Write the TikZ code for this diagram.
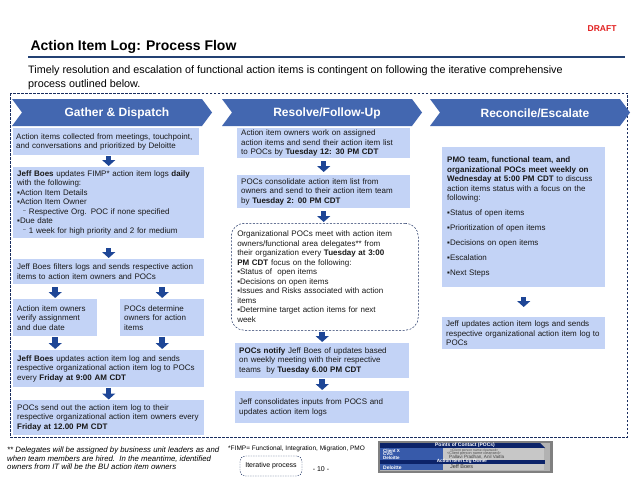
\documentclass[tikz,border=0pt]{standalone}
\usepackage{fontspec}
\setmainfont{Liberation Sans}
\usepackage{xcolor}
\usepackage{tikz}
\usetikzlibrary{arrows.meta}

\definecolor{chevblue}{RGB}{67,103,176}
\definecolor{boxblue}{RGB}{195,211,246}
\definecolor{arrowblue}{RGB}{30,70,150}
\definecolor{framenavy}{RGB}{25,45,95}
\definecolor{rulenavy}{RGB}{35,65,115}
\definecolor{draftred}{RGB}{225,30,30}
\definecolor{tabnavy}{RGB}{12,35,105}
\definecolor{tabblue}{RGB}{55,90,170}

\newcommand{\subln}{\hspace*{6pt}\raisebox{1.5pt}{\fontsize{5}{5}\selectfont --}\hspace{3pt}}

\begin{document}
\begin{tikzpicture}[x=1pt,y=-1pt,
  txt/.style={font=\fontsize{8}{9.5}\selectfont, text=black!90},
  box/.style={txt, fill=boxblue, anchor=north west, align=left, inner xsep=4pt, inner ysep=1pt},
  meetbox/.style={txt, draw=framenavy, dash pattern=on 2pt off 1.5pt, line width=0.5pt, rounded corners=13pt,
    anchor=north west, align=left, inner xsep=6pt, inner ysep=1pt},
  chevtext/.style={text=white, font=\bfseries\fontsize{12}{12}\selectfont},
  dnarrow/.style={draw=arrowblue, line width=5.5pt, -{Triangle[width=13pt,length=6pt]}, shorten >=1pt, shorten <=1pt},
  tabtext/.style={inner sep=0pt, font=\bfseries\fontsize{5}{5}\selectfont}]
\useasboundingbox (0,0) rectangle (638,479);

% heading
\node[anchor=east, text=draftred, font=\bfseries\fontsize{8.5}{9}\selectfont] (draft) at (620,29) {DRAFT};
\node[anchor=west, font=\bfseries\fontsize{14}{14}\selectfont] (title) at (27,47) {Action Item Log: Process Flow};
\draw[rulenavy, line width=1.3pt] (28,57) -- (625,57);
\node[anchor=north west, align=left, inner sep=0pt, font=\fontsize{10.8}{14}\selectfont] (intro) at (28,65)
  {Timely resolution and escalation of functional action items is contingent on following the iterative comprehensive\\process outlined below.};

\draw[framenavy, dash pattern=on 2.5pt off 1.5pt, line width=0.6pt] (10,93) rectangle (627,437);

% phase banners
\foreach \x/\name/\lbl in {12/gather/{Gather \& Dispatch}, 222/resolve/{Resolve/Follow-Up}, 430/reconcile/{Reconcile/Escalate}}{
  \fill[chevblue] (\x,99) -- ++(190,0) -- ++(10,13.5) -- ++(-10,13.5) -- ++(-190,0) -- ++(10,-13.5) -- cycle;
  \node[chevtext] (\name) at (\x+105,113) {\lbl};
}

% gather & dispatch
\node[box, text width=180pt, inner xsep=3pt, minimum height=27pt] (collect) at (13,128)
  {Action items collected from meetings, touchpoint,\\and conversations and prioritized by Deloitte};
\node[box, text width=183pt, minimum height=71pt] (daily) at (13,167)
  {\textbf{Jeff Boes} updates FIMP* action item logs \textbf{daily}\\with the following:\\▪Action Item Details\\▪Action Item Owner\\\subln Respective Org. POC if none specified\\▪Due date\\\subln 1 week for high priority and 2 for medium};
\node[box, text width=183pt, minimum height=25pt] (filter) at (13,259)
  {Jeff Boes filters logs and sends respective action\\items to action item owners and POCs};
\node[box, text width=76pt, minimum height=37pt] (verify) at (13,299)
  {Action item owners\\verify assignment\\and due date};
\node[box, text width=76pt, minimum height=37pt] (determine) at (120,299)
  {POCs determine\\owners for action\\items};
\node[box, text width=183pt, minimum height=37pt] (friday9) at (13,350)
  {\textbf{Jeff Boes} updates action item log and sends\\respective organizational action item log to POCs\\every \textbf{Friday at 9:00 AM CDT}};
\node[box, text width=183pt, minimum height=35pt] (friday12) at (13,400)
  {POCs send out the action item log to their\\respective organizational action item owners every\\\textbf{Friday at 12.00 PM CDT}};

\draw[dnarrow] (collect.south -| daily) -- (daily.north);
\draw[dnarrow, shorten <=10pt] (daily.south) -- (filter.north);
\draw[dnarrow, shorten <=3pt] (filter.south -| verify) -- (verify.north);
\draw[dnarrow, shorten <=3pt] (filter.south -| determine) -- (determine.north);
\draw[dnarrow] (verify.south) -- (verify.south |- friday9.north);
\draw[dnarrow] (determine.south) -- (determine.south |- friday9.north);
\draw[dnarrow, shorten <=0.5pt, shorten >=0.5pt] (friday9.south -| filter) -- (friday12.north);

% resolve / follow-up
\node[box, text width=165pt, minimum height=30pt] (work) at (237,128)
  {Action item owners work on assigned\\action items and send their action item list\\to POCs by \textbf{Tuesday 12: 30 PM CDT}};
\node[box, text width=165pt, minimum height=33pt] (consol) at (237,175)
  {POCs consolidate action item list from\\owners and send to their action item team\\by \textbf{Tuesday 2: 00 PM CDT}};
\node[meetbox, text width=175pt, minimum height=107pt] (meet) at (231,223)
  {Organizational POCs meet with action item\\owners/functional area delegates** from\\their organization every \textbf{Tuesday at 3:00}\\\textbf{PM CDT} focus on the following:\\▪Status of\ \ open items\\▪Decisions on open items\\▪Issues and Risks associated with action\\items\\▪Determine target action items for next\\week};
\node[box, text width=166pt, minimum height=35pt] (notify) at (235,343)
  {\textbf{POCs notify} Jeff Boes of updates based\\on weekly meeting with their respective\\teams\ \ by \textbf{Tuesday 6.00 PM CDT}};
\node[box, text width=166pt, minimum height=32pt] (jeffcons) at (235,391)
  {Jeff consolidates inputs from POCS and\\updates action item logs};

\draw[dnarrow, shorten <=3pt, shorten >=3pt] (work) -- (consol);
\draw[dnarrow, shorten <=3pt] (consol.south) -- (consol.south |- meet.north);
\draw[dnarrow] (meet.south -| notify) -- (notify.north);
\draw[dnarrow] (notify) -- (jeffcons);

% reconcile / escalate
\node[box, text width=153pt, inner xsep=5pt, minimum height=140pt] (pmo) at (442,147)
  {\textbf{PMO team, functional team, and}\\\textbf{organizational POCs meet weekly on}\\\textbf{Wednesday at 5:00 PM CDT} to discuss\\action items status with a focus on the\\following:\\[5.5pt]▪Status of open items\\[5.5pt]▪Prioritization of open items\\[5.5pt]▪Decisions on open items\\[5.5pt]▪Escalation\\[5.5pt]▪Next Steps};
\node[box, text width=155pt, minimum height=32pt] (jeffupd) at (442,317)
  {Jeff updates action item logs and sends\\respective organizational action item log to\\POCs};

\draw[dnarrow, shorten <=10pt, shorten >=10pt] (pmo) -- (jeffupd);

% notes
\node[anchor=north west, align=left, inner sep=0pt, font=\itshape\fontsize{7.8}{8.4}\selectfont] (delegates) at (7,447)
  {** Delegates will be assigned by business unit leaders as and\\when team members are hired.\ \ In the meantime, identified\\owners from IT will be the BU action item owners};
\node[anchor=west, inner sep=0pt, font=\fontsize{6.5}{7}\selectfont] (fimp) at (228,449) {*FIMP= Functional, Integration, Migration, PMO};
\node[draw=framenavy, dash pattern=on 1.5pt off 1pt, line width=0.4pt, rounded corners=5pt, minimum width=62pt, minimum height=20pt,
  inner sep=1pt, font=\fontsize{7}{8}\selectfont] (iterative) at (271,466) {Iterative process};
\node[font=\fontsize{7}{8}\selectfont] (pageno) at (321,469) {- 10 -};

% contacts table
\fill[black!50] (378,441) rectangle (553,473);
\fill[black!30] (380,443) rectangle (550,471);
\fill[tabnavy] (380,443) -- (540,443) -- (545,448) -- (380,448) -- cycle;
\fill[tabblue] (380,448) rectangle (443,459.5);
\fill[black!22] (443,448) rectangle (544,459.5);
\node[tabtext, text=white] (pochead) at (465,445.5) {Points of Contact (POCs)};
\node[tabtext, font=\bfseries\fontsize{4.5}{5}\selectfont, text=white, anchor=west] (clientx) at (383,450.6) {Client X};
\node[tabtext, font=\bfseries\fontsize{4.5}{5}\selectfont, text=white, anchor=west] (cvg) at (383,454.3) {CVG};
\node[tabtext, font=\bfseries\fontsize{4.5}{5}\selectfont, text=white, anchor=west] (deloittea) at (383,458) {Deloitte};
\node[tabtext, font=\fontsize{3.4}{4}\selectfont, text=black!70, anchor=west] (namea) at (450,450.3) {<Client person name cleansed>};
\node[tabtext, font=\fontsize{3.8}{4}\selectfont, text=black!70, anchor=west] (nameb) at (447,453.8) {<Client person name cleansed>};
\node[tabtext, font=\fontsize{4.6}{5}\selectfont, text=black!75, anchor=west] (pallavi) at (449,457.4) {Pallavi Pradhan, Anil Vaitla};
\fill[tabnavy] (380,459.5) rectangle (545,464);
\node[tabtext, font=\bfseries\fontsize{4.6}{5}\selectfont, text=white] (ownhead) at (462,461.8) {Action Item Log Owner};
\fill[tabblue] (380,464) rectangle (443,470);
\fill[black!22] (443,464) rectangle (544,470);
\node[tabtext, text=white, anchor=west] (deloitteb) at (383,467.5) {Deloitte};
\node[tabtext, font=\fontsize{5.5}{5}\selectfont, text=black!80, anchor=west] (jeffboes) at (450,467) {Jeff Boes};
\end{tikzpicture}
\end{document}
